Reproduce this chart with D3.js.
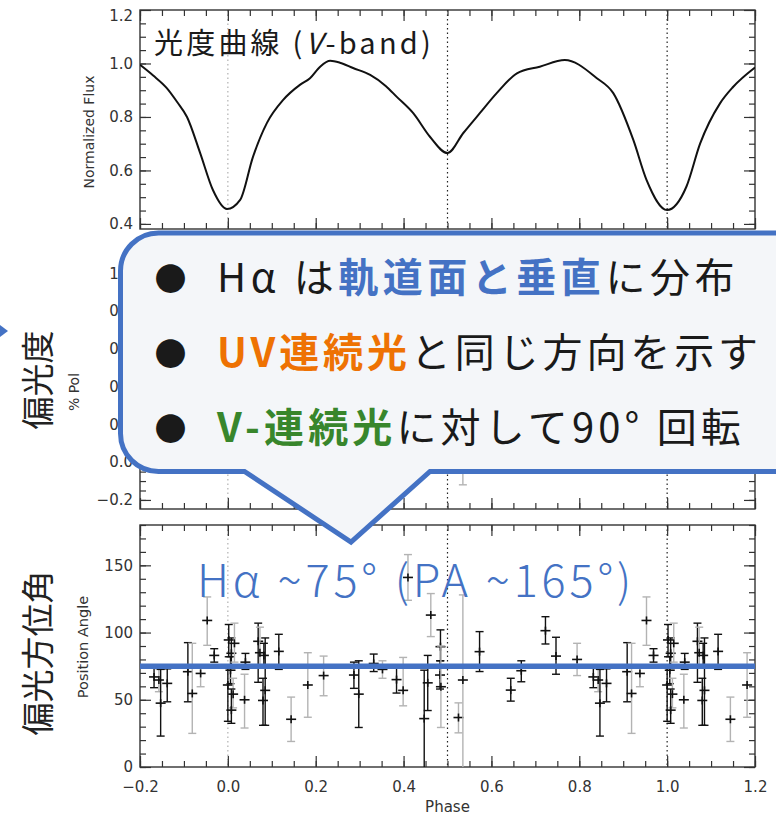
<!DOCTYPE html>
<html>
<head>
<meta charset="utf-8">
<script src="https://cdn.jsdelivr.net/npm/d3@7"></script>
<style>
  body { margin: 0; background: #fff; }
  svg { display: block; }
</style>
</head>
<body>
<svg id="chart" width="776" height="815"></svg>
<script>
// V-band light curve
const lcPhase = [-0.2, -0.17, -0.139, -0.115, -0.093, -0.063, -0.034, -0.002, 0.028, 0.057, 0.089, 0.126, 0.164, 0.187, 0.21, 0.233, 0.255, 0.285, 0.324, 0.36, 0.384, 0.422, 0.46, 0.5, 0.536, 0.574, 0.612, 0.658, 0.71, 0.767, 0.84, 0.877, 0.923, 0.953, 1.0, 1.044, 1.075, 1.12, 1.15, 1.2];
const lcFlux  = [0.995, 0.955, 0.908, 0.855, 0.80, 0.665, 0.527, 0.456, 0.49, 0.65, 0.778, 0.864, 0.92, 0.945, 0.988, 1.01, 1.003, 0.983, 0.957, 0.915, 0.876, 0.814, 0.726, 0.665, 0.74, 0.815, 0.889, 0.963, 0.988, 1.013, 0.945, 0.89, 0.714, 0.565, 0.452, 0.54, 0.70, 0.85, 0.912, 0.985];

// position angle points for phase 0-1 (the plot repeats them at phase -1 / +1)
const paPhase = [0.000, 0.002, 0.008, 0.006, 0.012, 0.008, 0.015, 0.040, 0.038, 0.069, 0.073, 0.082, 0.085, 0.080, 0.116, 0.144, 0.182, 0.218, 0.287, 0.298, 0.332, 0.352, 0.384, 0.399, 0.410, 0.447, 0.455, 0.462, 0.484, 0.483, 0.485, 0.525, 0.535, 0.573, 0.644, 0.668, 0.723, 0.747, 0.795, 0.832, 0.843, 0.847, 0.862, 0.909, 0.919, 0.938, 0.953, 0.969];
const paVal   = [61, 94.5, 84.6, 72, 54.2, 42.3, 92, 78, 50, 93.5, 85, 83, 57, 49.5, 86, 35.5, 61, 68, 68.4, 54.2, 77, 72.6, 65, 57, 141, 36, 62.6, 113, 89.5, 68.4, 59.7, 36.8, 64.7, 85.8, 57.2, 71.6, 101.4, 82.5, 80, 67, 64.7, 47.5, 62.2, 70.9, 54.7, 69.6, 109, 83];
const paLo    = [34, 82, 74, 62, 44, 32.5, 78, 72.6, 29, 63, 74, 74, 31, 31, 72.6, 19, 37, 53, 58.5, 29.4, 71, 66, 55, 45.5, 124, -10, 42, 97, 79, 58, 29.4, 25.4, -10, 71, 49, 63.4, 91.5, 69, 68, 59, 56, 23, 48.5, 48.5, 25, 59.7, 90.5, 78];
const paHi    = [74, 106, 96, 82, 66, 58, 107, 84.5, 69, 107, 104, 92, 96, 66, 98.7, 52, 85, 82.5, 78, 79, 84, 79, 76, 81.5, 158, 72, 83, 129, 102, 79, 90, 47.7, 128, 100.7, 66, 79, 111.8, 96.5, 92, 75, 73, 72.6, 73, 92.5, 92, 74.6, 126.5, 88];
const paGrey  = [0, 0, 0, 0, 1, 0, 1, 0, 1, 0, 1, 0, 0, 0, 0, 1, 1, 1, 0, 0, 0, 1, 0, 1, 1, 0, 0, 1, 0, 0, 1, 1, 1, 0, 0, 0, 0, 0, 1, 0, 1, 0, 0, 0, 1, 1, 1, 0];

// % pol: only one bar is left uncovered by the callout
const polPhase = [0.535];
const polVal = [0.05];
const polLo = [-0.12];
const polHi = [0.22];

const markPhase = [0.0, 0.5, 1.0];
const phaseTicks = [-0.2, 0, 0.2, 0.4, 0.6, 0.8, 1.0, 1.2];
const fluxTicks = [0.4, 0.6, 0.8, 1.0, 1.2];
const polTicks = [-0.2, 0, 0.2, 0.4, 0.6, 0.8, 1.0];
const paTicks = [0, 50, 100, 150];
const haPA = 75;     // blue overlay line
const fitPA = 73.3;  // thin red line of the original figure

const blue = "#4472c4", orange = "#ee7203", green = "#38862c", ink = "#1a1a1a";

const svg = d3.select("#chart");
const x = d3.scaleLinear().domain([-0.2, 1.2]).range([140, 755]);
const yFlux = d3.scaleLinear().domain([0.381, 1.2]).range([229, 10]);
const yPol = d3.scaleLinear().domain([-0.248, 1.15]).range([509, 245]);
const yPA = d3.scaleLinear().domain([0, 180]).range([767, 525]);

const xMinor = d3.range(0, 29).map(i => -0.2 + i * 0.05);
const f1 = d3.format(".1f");

function styleAxis(g, labels) {
  g.select(".domain").remove();
  g.selectAll(".tick line").attr("stroke", "#333").attr("stroke-width", 1.2);
  g.selectAll("text")
    .attr("font-family", "DejaVu Sans, Verdana, sans-serif")
    .attr("font-size", 15)
    .attr("fill", "#333");
  if (!labels) g.selectAll("text").remove();
}

function panel(y, majors, minorStep, fmt, xLabels, id) {
  const top = y.range()[1], bot = y.range()[0];
  const g = svg.append("g");
  const d = y.domain();
  const yMinor = d3.range(Math.ceil(d[0] / minorStep), Math.floor(d[1] / minorStep) + 1).map(i => i * minorStep);

  svg.append("clipPath").attr("id", id)
    .append("rect").attr("x", 140).attr("y", top).attr("width", 615).attr("height", bot - top);

  // dotted phase markers
  g.selectAll("line.mark")
    .data(markPhase)
    .join("line")
      .attr("x1", d => x(d)).attr("x2", d => x(d))
      .attr("y1", top).attr("y2", bot)
      .attr("stroke", d => d === 0 ? "#b0b0b0" : "#222")
      .attr("stroke-width", 1.2)
      .attr("stroke-dasharray", "1.5,3");

  const axes = [
    [d3.axisBottom(x), bot, xMinor, phaseTicks, xLabels, "x"],
    [d3.axisTop(x), top, xMinor, phaseTicks, false, "x"],
    [d3.axisLeft(y), 140, yMinor, majors, true, "y"],
    [d3.axisRight(y), 755, yMinor, majors, false, "y"]
  ];
  axes.forEach(([ax, pos, minor, major, lab, dir]) => {
    const tr = dir === "x" ? `translate(0,${pos})` : `translate(${pos},0)`;
    g.append("g").attr("transform", tr)
      .call(ax.tickValues(minor).tickSize(-6).tickFormat(""))
      .call(a => styleAxis(a, false));
    g.append("g").attr("transform", tr)
      .call(ax.tickValues(major).tickSize(-11).tickPadding(dir === "x" ? 14 : 7)
        .tickFormat(dir === "x" ? f1 : fmt))
      .call(a => styleAxis(a, lab));
  });

  g.append("rect")
    .attr("x", 140).attr("y", top).attr("width", 615).attr("height", bot - top)
    .attr("fill", "none").attr("stroke", "#333").attr("stroke-width", 1.4);
  return g;
}

// ---- top panel: light curve
const gTop = panel(yFlux, fluxTicks, 0.05, f1, false, "clipTop");
gTop.selectAll("text").filter(d => d === 1.2).attr("transform", "translate(0,6)");
const line = d3.line().x(d => x(d[0])).y(d => yFlux(d[1])).curve(d3.curveMonotoneX);
svg.append("path")
  .datum(lcPhase.map((p, i) => [p, lcFlux[i]]))
  .attr("clip-path", "url(#clipTop)")
  .attr("d", line)
  .attr("fill", "none").attr("stroke", "#111").attr("stroke-width", 2);

// ---- middle panel: % pol
panel(yPol, polTicks, 0.05, f1, false, "clipPol");

function errorBars(y, pts, clip) {
  const g = svg.append("g").attr("clip-path", `url(#${clip})`);
  pts.forEach(p => {
    const c = p.grey ? "#b3b3b3" : "#111";
    const cx = x(p.ph);
    g.append("line").attr("x1", cx).attr("x2", cx).attr("y1", y(p.lo)).attr("y2", y(p.hi))
      .attr("stroke", c).attr("stroke-width", 1.4);
    [p.lo, p.hi].forEach(v => g.append("line")
      .attr("x1", cx - 4).attr("x2", cx + 4).attr("y1", y(v)).attr("y2", y(v))
      .attr("stroke", c).attr("stroke-width", 1.4));
    if (p.v != null) {
      g.append("line").attr("x1", cx - 5).attr("x2", cx + 5).attr("y1", y(p.v)).attr("y2", y(p.v))
        .attr("stroke", "#111").attr("stroke-width", 1.6);
      g.append("line").attr("x1", cx).attr("x2", cx).attr("y1", y(p.v) - 4).attr("y2", y(p.v) + 4)
        .attr("stroke", "#111").attr("stroke-width", 1.6);
    }
  });
}
errorBars(yPol, polPhase.map((p, i) => ({ ph: p, v: null, lo: polLo[i], hi: polHi[i], grey: 1 })), "clipPol");

// ---- bottom panel: position angle
panel(yPA, paTicks, 10, d3.format("d"), true, "clipPA");
const paPts = [];
paPhase.forEach((p, i) => {
  [-1, 0, 1].forEach(s => {
    const ph = p + s;
    if (ph >= -0.2 && ph <= 1.2) paPts.push({ ph, v: paVal[i], lo: paLo[i], hi: paHi[i], grey: paGrey[i] });
  });
});
errorBars(yPA, paPts, "clipPA");

svg.append("line").attr("x1", 140).attr("x2", 755).attr("y1", yPA(fitPA)).attr("y2", yPA(fitPA))
  .attr("stroke", "#e05050").attr("stroke-width", 1.2);
svg.append("line").attr("x1", 140).attr("x2", 755).attr("y1", yPA(haPA)).attr("y2", yPA(haPA))
  .attr("stroke", blue).attr("stroke-width", 5.5);

// axis titles
const axisFont = "DejaVu Sans, Verdana, sans-serif";
function rotLabel(txt, cx, cy, size, family, fill) {
  return svg.append("text")
    .attr("transform", `translate(${cx},${cy}) rotate(-90)`)
    .attr("text-anchor", "middle")
    .attr("font-family", family).attr("font-size", size).attr("fill", fill)
    .text(txt);
}
rotLabel("Normalized Flux", 94, 132, 14, axisFont, "#333");
rotLabel("% Pol", 79, 392, 14, axisFont, "#333");
rotLabel("Position Angle", 88, 647, 14.5, axisFont, "#333");
rotLabel("偏光度", 50, 380, 33, "Noto Sans CJK JP", "#222");
rotLabel("偏光方位角", 50, 653, 33, "Noto Sans CJK JP", "#222");
svg.append("text").attr("x", x(0.5)).attr("y", 812).attr("text-anchor", "middle")
  .attr("font-family", axisFont).attr("font-size", 15).attr("fill", "#333")
  .text("Phase");

function fitWidth(sel, target) {
  const w = sel.node().getComputedTextLength();
  const n = sel.node().textContent.length;
  sel.attr("letter-spacing", (target - w) / n);
}

// title in the light-curve panel
const title = svg.append("text").attr("x", 154).attr("y", 54)
  .attr("font-family", "Noto Sans CJK JP").attr("font-size", 29).attr("fill", ink);
title.append("tspan").text("光度曲線 (");
title.append("tspan").attr("font-style", "italic").text("V");
title.append("tspan").text("-band)");
fitWidth(title, 280);

// callout
const r = 38, L = 120.5, T = 233, B = 471.5;
const bubble = d3.path();
bubble.moveTo(L + r, T);
bubble.lineTo(800, T);
bubble.lineTo(800, B);
bubble.lineTo(430, B);
bubble.lineTo(351, 542);
bubble.lineTo(244.5, B);
bubble.lineTo(L + r, B);
bubble.arcTo(L, B, L, B - r, r);
bubble.lineTo(L, T + r);
bubble.arcTo(L, T, L + r, T, r);
bubble.closePath();
svg.append("path").attr("d", bubble.toString())
  .attr("fill", "#f4f6f9").attr("stroke", blue).attr("stroke-width", 5).attr("stroke-linejoin", "miter");

const calloutLines = [
  [["Hα は", ink, 400], ["軌道面と垂直", blue, 700], ["に分布", ink, 400]],
  [["UV連続光", orange, 700], ["と同じ方向を示す", ink, 400]],
  [["V-連続光", green, 700], ["に対して90° 回転", ink, 400]]
];
const lineBase = [292, 367, 442];
const lineEnd = [739, 762, 745];
calloutLines.forEach((parts, i) => {
  svg.append("text").attr("x", 170.5).attr("y", lineBase[i] - 15)
    .attr("text-anchor", "middle").attr("dominant-baseline", "central")
    .attr("font-family", "Noto Sans CJK JP").attr("font-size", 32).attr("fill", ink)
    .text("●");
  const t = svg.append("text").attr("x", 217).attr("y", lineBase[i])
    .attr("font-family", "Noto Sans CJK JP").attr("font-size", 40);
  parts.forEach(([s, c, w]) => t.append("tspan").attr("fill", c).attr("font-weight", w).text(s));
  fitWidth(t, lineEnd[i] - 217);
});

// blue annotation in the position-angle panel
const ann = svg.append("text").attr("x", 197).attr("y", 597)
  .attr("font-family", "Noto Sans CJK JP").attr("font-size", 45).attr("font-weight", 300)
  .attr("fill", blue).text("Hα ~75° (PA ~165°)");
fitWidth(ann, 438);

// arrow tip at the left edge
svg.append("path").attr("d", "M0,325 L8,331 L0,337 Z").attr("fill", blue);
</script>
</body>
</html>
